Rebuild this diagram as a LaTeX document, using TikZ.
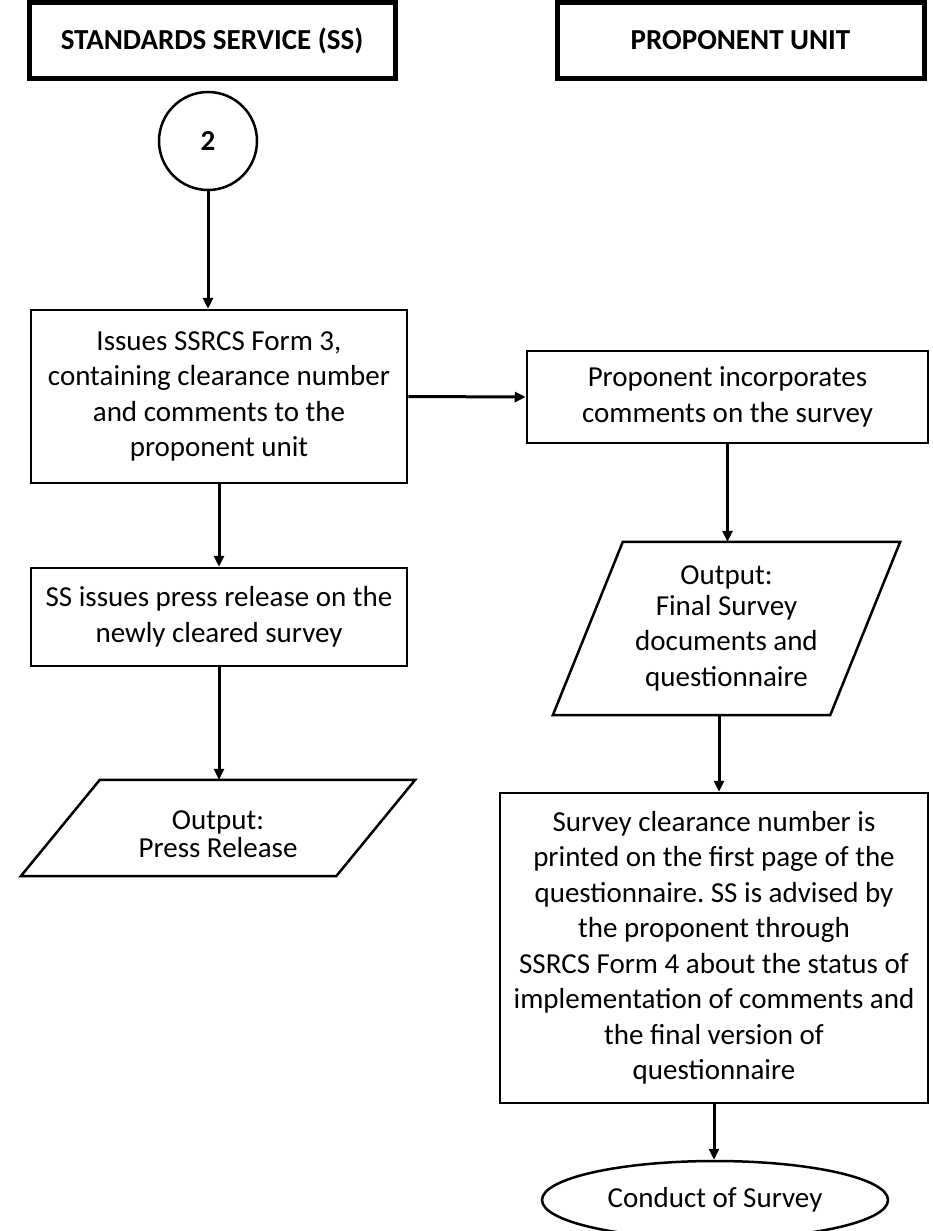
\documentclass[tikz,border=0pt]{standalone}
\usepackage{fontspec}
\setmainfont{Carlito}
\usetikzlibrary{arrows.meta,shapes.geometric}
\frenchspacing

\begin{document}
\begin{tikzpicture}[x=1pt, y=-1pt,
  every node/.style={font=\fontsize{29}{35.5}\selectfont, align=center, inner sep=0pt},
  lane/.style={draw, line width=5pt, minimum height=75pt, font=\fontsize{29}{35.5}\selectfont\bfseries},
  task/.style={draw, line width=2.5pt},
  slanted/.style={line width=2.5pt},
  flow/.style={line width=3pt, -{Triangle[length=11pt,width=10pt]}}]
\useasboundingbox (0,0) rectangle (932,1231);

% lanes
\node[lane, minimum width=366pt] (sslane) at (212,40.5) {STANDARDS SERVICE (SS)};
\node[lane, minimum width=367pt] (unitlane) at (740.5,40.5) {PROPONENT UNIT};

% standards service column
\node[task, circle, minimum size=98pt, font=\fontsize{29}{35.5}\selectfont\bfseries] (connector) at (208,141) {2};
\node[task, minimum width=376pt, minimum height=173pt] (issues) at (219,396.5)
  {Issues SSRCS Form 3,\\containing clearance number\\and comments to the\\proponent unit};
\node[task, minimum width=376pt, minimum height=98pt] (release) at (219,617)
  {SS issues press release on the\\newly cleared survey};
\node[minimum width=315pt, minimum height=96pt] (pressout) at (218,834)
  {Output:\\[-8pt]Press Release};
\draw[slanted] ([xshift=-39.5pt,yshift=6pt]pressout.south west) -- ([xshift=-39.5pt,yshift=6pt]pressout.south east)
  -- ([xshift=39.5pt,yshift=6pt]pressout.north east) -- ([xshift=39.5pt,yshift=6pt]pressout.north west) -- cycle;

% proponent unit column
\node[task, minimum width=401pt, minimum height=92pt] (incorporate) at (727.5,397)
  {Proponent incorporates\\comments on the survey};
\node[minimum width=277pt, minimum height=173pt] (finalout) at (726.5,628.5)
  {Output:\\[-5pt]Final Survey\\documents and\\questionnaire};
\draw[slanted] ([xshift=-35pt]finalout.south west) -- ([xshift=-35pt]finalout.south east)
  -- ([xshift=35pt]finalout.north east) -- ([xshift=35pt]finalout.north west) -- cycle;
\node[task, minimum width=428pt, minimum height=310pt] (advise) at (714,948)
  {Survey clearance number is\\printed on the first page of the\\questionnaire. SS is advised by\\the proponent through\\SSRCS Form 4 about the status of\\implementation of comments and\\the final version of\\questionnaire};
\node[task, ellipse, minimum width=346pt, minimum height=78pt] (conduct) at (715,1200) {Conduct of Survey};

% arrows
\draw[flow] (connector.south) -- (connector.south |- issues.north);
\draw[flow] (issues.east) -- (incorporate.west);
\draw[flow] (issues.south) -- (release.north);
\draw[flow] (release.south) -- ([yshift=6pt]release.south |- pressout.north);
\draw[flow] (incorporate.south) -- (incorporate.south |- finalout.north);
\draw[flow] ([xshift=5pt]finalout.south -| advise.north) -- ([xshift=5pt]advise.north);
\draw[flow] (advise.south) -- (advise.south |- conduct.north);
\end{tikzpicture}
\end{document}
